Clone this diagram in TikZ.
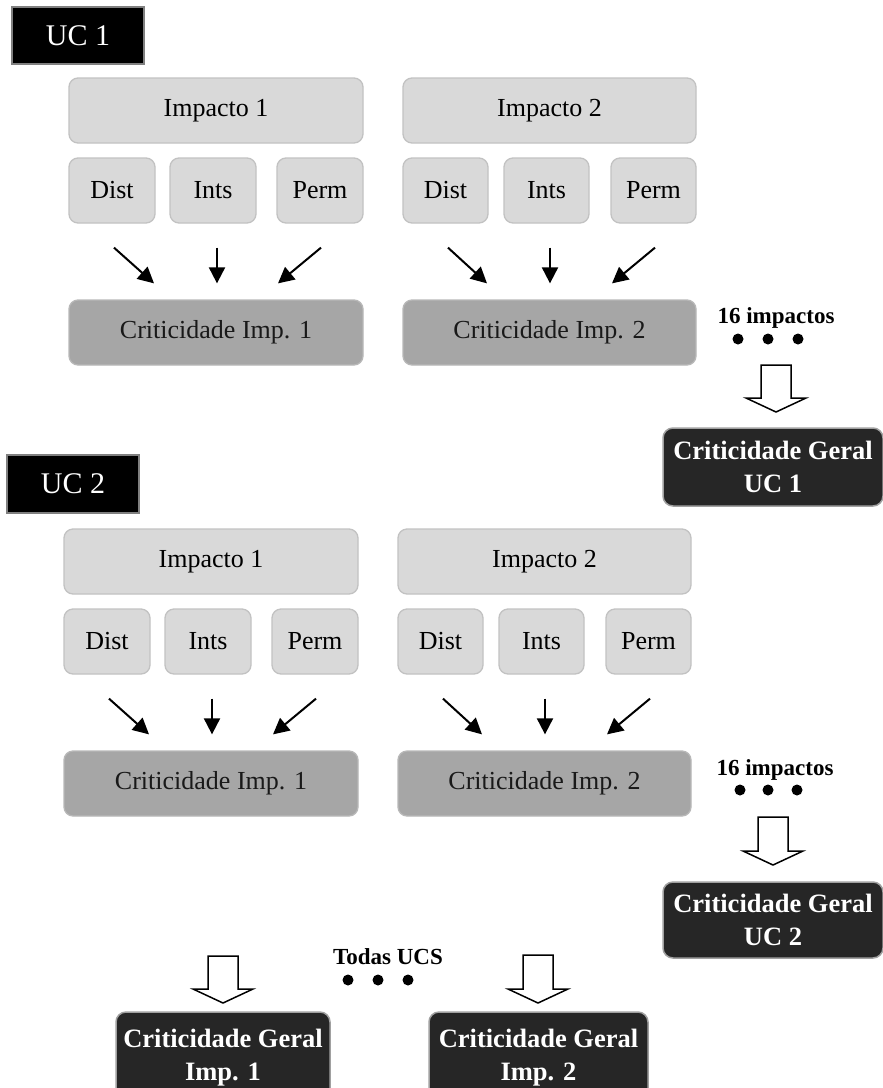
\documentclass[tikz,border=0pt]{standalone}
\usepackage{fontspec}
\setmainfont{Liberation Serif}
\usetikzlibrary{arrows.meta}
\definecolor{lg}{HTML}{D9D9D9}
\definecolor{lgb}{HTML}{C2C2C2}
\definecolor{mg}{HTML}{A6A6A6}
\definecolor{mgb}{HTML}{B8B8B8}
\definecolor{dg}{HTML}{262626}
\definecolor{dgb}{HTML}{A0A0A0}
\newcommand\bx[7]{\node[#2, minimum width={#5-#3}, minimum height={#6-#4}] (#1) at ({(#3+#5)/2},{(#4+#6)/2}) {#7};}
\newcommand\hollowarrow[3]{\draw[hollow] (#1-15,#2) -- (#1+15,#2) -- (#1+15,#3-14) -- (#1+30,#3-14) -- (#1,#3) -- (#1-30,#3-14) -- (#1-15,#3-14) -- cycle;}
\newcommand\ucblock[1]{%
 \bx{#1i1}{lbox}{69}{78}{363}{143}{Impacto 1}
 \bx{#1d1}{lbox}{69}{158}{155}{223}{Dist}
 \bx{#1n1}{lbox}{170}{158}{256}{223}{Ints}
 \bx{#1p1}{lbox}{277}{158}{363}{223}{Perm}
 \bx{#1c1}{cbox}{69}{300}{363}{365}{Criticidade Imp. 1}
 \bx{#1i2}{lbox}{403}{78}{696}{143}{Impacto 2}
 \bx{#1d2}{lbox}{403}{158}{488}{223}{Dist}
 \bx{#1n2}{lbox}{504}{158}{589}{223}{Ints}
 \bx{#1p2}{lbox}{611}{158}{696}{223}{Perm}
 \bx{#1c2}{cbox}{403}{300}{696}{365}{Criticidade Imp. 2}
 \draw[arr] ([xshift=2pt,yshift=-24pt]#1d1.south) -- ([xshift=-62pt,yshift=16pt]#1c1.north);
 \draw[arr] ([xshift=4pt,yshift=-24pt]#1n1.south) -- ([xshift=1pt,yshift=16pt]#1c1.north);
 \draw[arr] ([xshift=1pt,yshift=-24pt]#1p1.south) -- ([xshift=62pt,yshift=16pt]#1c1.north);
 \draw[arr] ([xshift=2.5pt,yshift=-24pt]#1d2.south) -- ([xshift=-62.5pt,yshift=16pt]#1c2.north);
 \draw[arr] ([xshift=3.5pt,yshift=-24pt]#1n2.south) -- ([xshift=0.5pt,yshift=16pt]#1c2.north);
 \draw[arr] ([xshift=1.5pt,yshift=-24pt]#1p2.south) -- ([xshift=62.5pt,yshift=16pt]#1c2.north);
}
\tikzset{
 lbox/.style={draw=lgb, fill=lg, line width=1.3pt, rounded corners=9pt, inner sep=0pt, font=\fontsize{26}{30}\selectfont},
 cbox/.style={draw=mgb, fill=mg, line width=1.3pt, rounded corners=9pt, inner sep=0pt, text=black!90, font=\fontsize{26}{30}\selectfont},
 gbox/.style={draw=dgb, fill=dg, line width=1.5pt, rounded corners=10pt, inner sep=0pt, text=white, align=center, font=\bfseries\fontsize{26.5}{33}\selectfont},
 ucbox/.style={draw=gray, fill=black, line width=1.5pt, inner sep=0pt, text=white, font=\fontsize{30}{34}\selectfont},
 arr/.style={line width=2pt, -{Triangle[length=16pt,width=16pt]}},
 bdot/.style={circle, fill=black, minimum size=11pt, inner sep=0pt},
 note/.style={inner sep=0pt, font=\bfseries\fontsize{23}{26}\selectfont},
 hollow/.style={draw=black, fill=white, line width=1.5pt, line join=miter}
}
\begin{document}
\begin{tikzpicture}[x=1pt,y=-1pt]
\useasboundingbox (0,0) rectangle (883,1088);
% UC labels
\bx{uc1}{ucbox}{12}{7}{144}{64}{UC 1}
\bx{uc2}{ucbox}{7}{455}{139}{513}{UC 2}
% block 1
\ucblock{a}
% block 2
\begin{scope}[shift={(-5,451)}]
\ucblock{b}
\end{scope}
% right side block 1
\node[note] (n16a) at (776,318) {16 impactos};
\node[bdot] (da1) at (738,339) {};
\node[bdot] (da2) at (768,339) {};
\node[bdot] (da3) at (798,339) {};
\hollowarrow{776}{365}{412}
\bx{g1}{gbox}{663}{428}{883}{506}{Criticidade Geral\\UC 1}
% right side block 2
\node[note] (n16b) at (775,770) {16 impactos};
\node[bdot] (db1) at (740,790) {};
\node[bdot] (db2) at (768,790) {};
\node[bdot] (db3) at (797,790) {};
\hollowarrow{773}{817}{865}
\bx{g2}{gbox}{663}{882}{883}{958}{Criticidade Geral\\UC 2}
% bottom
\node[note] (todas) at (388,957) {Todas UCS};
\node[bdot] (dc1) at (348,980) {};
\node[bdot] (dc2) at (378,980) {};
\node[bdot] (dc3) at (408,980) {};
\hollowarrow{223}{956}{1003}
\hollowarrow{538}{955}{1003}
\bx{g3}{gbox}{116}{1012}{330}{1104}{Criticidade Geral\\Imp. 1}
\bx{g4}{gbox}{429}{1012}{648}{1104}{Criticidade Geral\\Imp. 2}
\end{tikzpicture}
\end{document}
